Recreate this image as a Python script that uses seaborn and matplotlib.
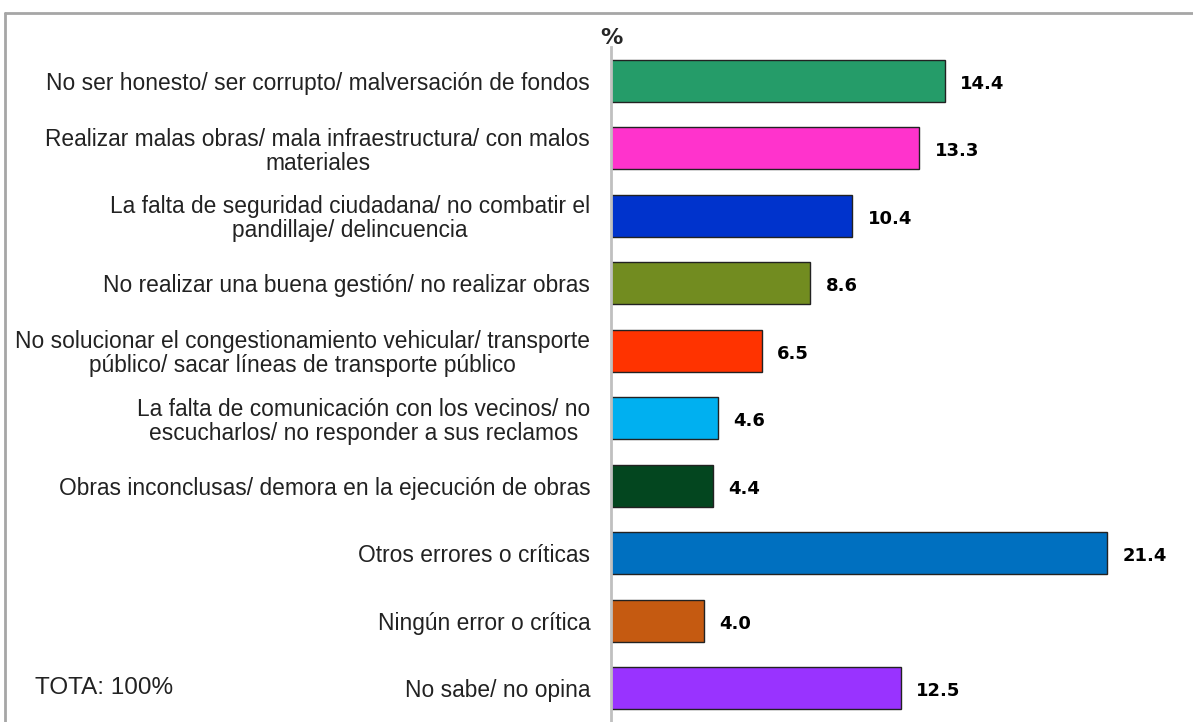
import matplotlib
matplotlib.use("Agg")
import matplotlib.pyplot as plt
import seaborn as sns
import pandas as pd
from matplotlib.lines import Line2D

categories = [
    "No ser honesto/ ser corrupto/ malversación de fondos",
    "Realizar malas obras/ mala infraestructura/ con malos\nmateriales",
    "La falta de seguridad ciudadana/ no combatir el\npandillaje/ delincuencia",
    "No realizar una buena gestión/ no realizar obras",
    "No solucionar el congestionamiento vehicular/ transporte\npúblico/ sacar líneas de transporte público",
    "La falta de comunicación con los vecinos/ no\nescucharlos/ no responder a sus reclamos",
    "Obras inconclusas/ demora en la ejecución de obras",
    "Otros errores o críticas",
    "Ningún error o crítica",
    "No sabe/ no opina",
]
values = [14.4, 13.3, 10.4, 8.6, 6.5, 4.6, 4.4, 21.4, 4.0, 12.5]
colors = ["#259C69", "#FF33CC", "#0033CC", "#728C20", "#FF3300",
          "#00B0F0", "#03461F", "#0070C0", "#C55A11", "#9933FF"]

df = pd.DataFrame({"cat": categories, "val": values})

sns.set_style("white")
plt.rcParams["font.family"] = ["Liberation Sans", "DejaVu Sans"]

fig = plt.figure(figsize=(11.93, 7.22), dpi=100)
ax = fig.add_axes([611 / 1193, 0, 559 / 1193, 1 - 47 / 722])

sns.barplot(data=df, y="cat", x="val", hue="cat", palette=colors,
            saturation=1, orient="h", width=0.62, edgecolor="#222222",
            linewidth=1, legend=False, ax=ax)

ax.set_xlim(0, 559 / 23.19)
ax.set_ylim(9.5, -0.5)
ax.set_xlabel("")
ax.set_ylabel("")
ax.set_xticks([])
for s in ["top", "right", "bottom"]:
    ax.spines[s].set_visible(False)
ax.spines["left"].set_color("#C0C0C0")
ax.spines["left"].set_linewidth(2)
ax.tick_params(axis="y", length=0, pad=15)
for lbl in ax.get_yticklabels():
    lbl.set_fontsize(16.4)
    lbl.set_multialignment("center")
    lbl.set_linespacing(1.05)
    lbl.set_color("#222222")

for i, v in enumerate(values):
    ax.annotate(f"{v:.1f}", xy=(v, i), xytext=(11, -2), textcoords="offset points",
                ha="left", va="center", fontsize=13, fontweight="bold",
                family="DejaVu Sans", color="black")

fig.text(611 / 1193, 1 - 38 / 722, "%", ha="center", va="center",
         fontsize=16, fontweight="bold", family="DejaVu Sans")
fig.text(35 / 1193, 1 - 688 / 722, "TOTA: 100%", ha="left", va="center",
         fontsize=17.5, color="#222222")

# outer frame (top and left)
fig.add_artist(Line2D([5 / 1193, 1], [1 - 13 / 722, 1 - 13 / 722],
                      transform=fig.transFigure, color="#A6A6A6", lw=2))
fig.add_artist(Line2D([5 / 1193, 5 / 1193], [0, 1 - 13 / 722],
                      transform=fig.transFigure, color="#A6A6A6", lw=2))

fig.savefig("out.png", dpi=100)
plt.close(fig)
